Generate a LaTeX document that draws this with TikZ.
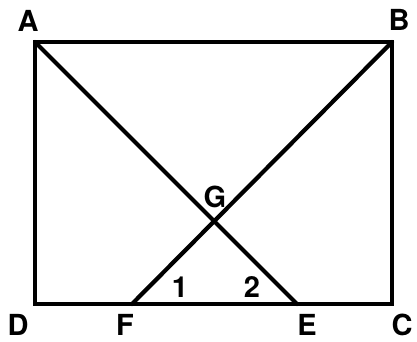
\documentclass[tikz,border=0pt]{standalone}
\usepackage{fontspec}
\setmainfont{TeX Gyre Heros}
\begin{document}
\begin{tikzpicture}[x=1pt, y=-1pt,
  seg/.style={line width=4.2pt, line cap=round, line join=miter},
  lbl/.style={font=\fontsize{29}{29}\selectfont\bfseries, inner sep=0pt}]
\useasboundingbox (0,0) rectangle (417,341);
% corners and base points
\coordinate (A) at (35,42);
\coordinate (B) at (392,42);
\coordinate (C) at (392,304);
\coordinate (D) at (35,304);
\coordinate (F) at (132,304);
\coordinate (E) at (297,304);
\coordinate (G) at (intersection of A--E and B--F);
% rectangle and diagonals
\draw[seg] (A) -- (B) -- (C) -- (D) -- cycle;
\draw[seg] (A) -- (E);
\draw[seg] (B) -- (F);
% labels
\node[lbl] (lA) at (28,21) {A};
\node[lbl] (lB) at (399,20) {B};
\node[lbl] (lC) at (402,325) {C};
\node[lbl] (lD) at (18,325) {D};
\node[lbl] (lF) at (125,325) {F};
\node[lbl] (lE) at (307,325) {E};
\node[lbl] (lG) at (215,197) {G};
\node[lbl] (l1) at (180,287) {1};
\node[lbl] (l2) at (252,287) {2};
\end{tikzpicture}
\end{document}
